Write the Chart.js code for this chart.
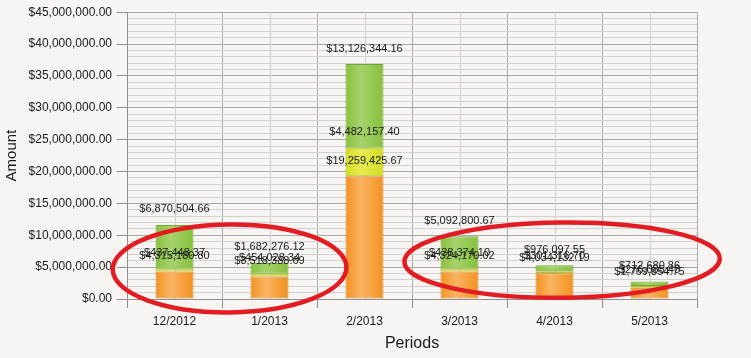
<!DOCTYPE html>
<html>
<head>
<meta charset="utf-8">
<script src="https://cdn.jsdelivr.net/npm/chart.js@4/dist/chart.umd.min.js"></script>
<style>
html,body{margin:0;padding:0;background:#f6f5f1;}
#wrap{position:relative;width:751px;height:358px;}
</style>
</head>
<body>
<div id="wrap"><canvas id="c" width="751" height="358"></canvas></div>
<script>
const periods = ['12/2012','1/2013','2/2013','3/2013','4/2013','5/2013'];
const orangeValues = [4315180.80, 3518388.69, 19259425.67, 4324170.02, 4034132.19, 1769854.75];
const yellowValues = [437448.37, 454028.34, 4482157.40, 438374.10, 301316.70, 276085.40];
const greenValues  = [6870504.66, 1682276.12, 13126344.16, 5092800.67, 976097.55, 712680.86];
const yTickMax = 45000000;
const yMajorStep = 5000000;
const yMinorStep = 1000000;

const FONT = '"Liberation Sans", Arial, sans-serif';

function money(v){
  return '$' + v.toLocaleString('en-US',{minimumFractionDigits:2,maximumFractionDigits:2});
}

function gradFor(edge, mid){
  return function(ctx){
    const chart = ctx.chart;
    const xs = chart.scales.x;
    if(!chart.chartArea || !xs || ctx.dataIndex === undefined) return edge;
    const cx = xs.getPixelForValue(ctx.dataIndex);
    const w = (xs.width / periods.length) * 0.4 / 2;
    const g = chart.ctx.createLinearGradient(cx - w, 0, cx + w, 0);
    g.addColorStop(0, edge);
    g.addColorStop(0.4, mid);
    g.addColorStop(1, edge);
    return g;
  };
}

const centerLines = {
  id:'centerLines',
  beforeDatasetsDraw(chart){
    const xs = chart.scales.x, a = chart.chartArea, c = chart.ctx;
    c.save();
    c.strokeStyle = '#cfcfcf';
    c.lineWidth = 1;
    for(let i=0;i<periods.length;i++){
      const x = Math.round(xs.getPixelForValue(i)) + 0.5;
      c.beginPath(); c.moveTo(x, a.top); c.lineTo(x, a.bottom); c.stroke();
    }
    c.restore();
  }
};

const valueLabels = {
  id:'valueLabels',
  afterDatasetsDraw(chart){
    const c = chart.ctx;
    c.save();
    c.font = '11px ' + FONT;
    c.fillStyle = '#1a1a1a';
    c.textAlign = 'center';
    c.textBaseline = 'middle';
    chart.data.datasets.forEach((ds, di) => {
      const meta = chart.getDatasetMeta(di);
      meta.data.forEach((bar, i) => {
        c.fillText(money(ds.data[i]), bar.x, bar.y - 15.5);
      });
    });
    c.restore();
  }
};

// hand-drawn red highlight ellipses (annotation), placed in scale units
const highlightRings = {
  id:'highlightRings',
  afterDraw(chart){
    const xs = chart.scales.x, ys = chart.scales.y, c = chart.ctx;
    const step = xs.getPixelForValue(1) - xs.getPixelForValue(0);
    const unit = ys.getPixelForValue(0) - ys.getPixelForValue(1000000);
    const rings = [
      {cx:0.58, cy:4800000, rx:1.23, ry:6.9},
      {cx:4.08, cy:6100000, rx:1.66, ry:5.9}
    ];
    c.save();
    c.strokeStyle = '#e31b23';
    c.lineWidth = 4.5;
    rings.forEach(r => {
      c.beginPath();
      c.ellipse(xs.getPixelForValue(0) + r.cx*step, ys.getPixelForValue(r.cy), r.rx*step, r.ry*unit, -0.01, 0, Math.PI*2);
      c.stroke();
    });
    c.restore();
  }
};

new Chart(document.getElementById('c'), {
  type:'bar',
  data:{
    labels: periods,
    datasets:[
      {label:'Orange', data: orangeValues, backgroundColor: gradFor('#f39220','#fab462'), borderColor:'#d8842c', borderWidth:1, borderSkipped:false},
      {label:'Yellow', data: yellowValues, backgroundColor: gradFor('#d3dc1e','#e6ec55'), borderColor:'#b8c02a', borderWidth:1, borderSkipped:false},
      {label:'Green', data: greenValues, backgroundColor: gradFor('#86c03c','#a6d36c'), borderColor:'#74a83a', borderWidth:1, borderSkipped:false}
    ]
  },
  options:{
    responsive:false,
    animation:false,
    devicePixelRatio:1,
    layout:{padding:{left:0,right:54,top:11,bottom:0}},
    datasets:{bar:{categoryPercentage:1, barPercentage:0.4}},
    plugins:{legend:{display:false}, tooltip:{enabled:false}},
    scales:{
      x:{
        stacked:true,
        grid:{offset:true, color:'#a9a9a9', tickColor:'#909090', tickLength:9, lineWidth:1},
        border:{color:'#909090'},
        ticks:{color:'#1a1a1a', font:{family:FONT, size:12}, padding:6, maxRotation:0},
        title:{display:true, text:'Periods', color:'#1a1a1a', font:{family:FONT, size:16}, padding:{top:2,bottom:5}},
        afterFit(s){ s.height = 59; }
      },
      y:{
        stacked:true,
        min:0, max:yTickMax,
        grid:{
          color:(ctx)=> (ctx.tick && ctx.tick.value % yMajorStep === 0) ? '#a9a9a9' : '#d2d2d2',
          tickColor:(ctx)=> (ctx.tick && ctx.tick.value % yMajorStep === 0) ? '#909090' : 'rgba(0,0,0,0)',
          tickLength:10, lineWidth:1
        },
        border:{color:'#909090'},
        ticks:{
          stepSize:yMinorStep, autoSkip:false, padding:5,
          color:'#1a1a1a', font:{family:FONT, size:12},
          callback:(v)=> (v % yMajorStep === 0) ? money(v) : ''
        },
        title:{display:true, text:'Amount', color:'#1a1a1a', font:{family:FONT, size:15}, padding:{top:3,bottom:0}},
        afterFit(s){ s.width = 127; }
      }
    }
  },
  plugins:[centerLines, valueLabels, highlightRings]
});
</script>
</body>
</html>
